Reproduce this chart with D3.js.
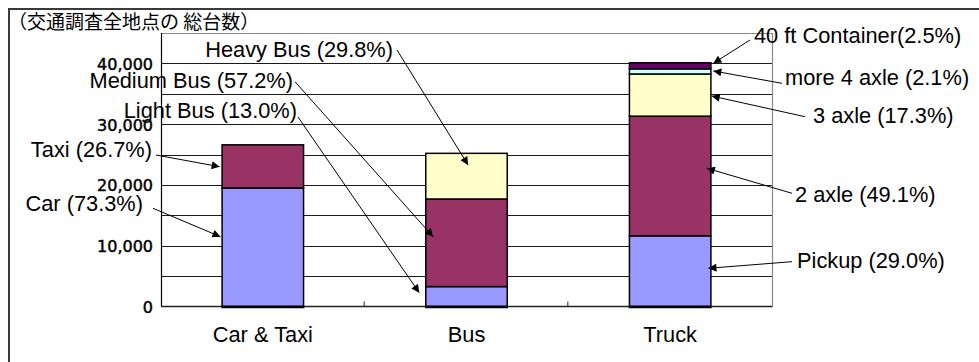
<!DOCTYPE html>
<html>
<head>
<meta charset="utf-8">
<script src="https://cdn.jsdelivr.net/npm/d3@7"></script>
<style>
  html, body { margin: 0; padding: 0; background: #fff; }
  svg { display: block; }
  .lbl { font-family: "Liberation Sans", Arial, sans-serif; font-size: 21.8px; fill: #000; }
  .tick-y { font-family: "DejaVu Sans", sans-serif; font-size: 16px; fill: #000; stroke: #000; stroke-width: 0.45px; }
  .title { font-family: "Noto Sans CJK JP", sans-serif; font-size: 19px; fill: #000; }
</style>
</head>
<body>
<svg id="chart" width="979" height="362"></svg>
<script>
// Vehicle counts across all survey points, stacked by vehicle type
const categories = ["Car & Taxi", "Bus", "Truck"];
const totals = [26600, 25200, 40100];
const segmentNames = [
  ["Car", "Taxi"],
  ["Light Bus", "Medium Bus", "Heavy Bus"],
  ["Pickup", "2 axle", "3 axle", "more 4 axle", "40 ft Container"]
];
const segmentShares = [
  [73.3, 26.7],
  [13.0, 57.2, 29.8],
  [29.0, 49.1, 17.3, 2.1, 2.5]
];
const yTicks = [0, 10000, 20000, 30000, 40000];
const gridStep = 5000;
const yMax = 45000;
const titleText = "（交通調査全地点の 総台数）";

// Segment fill by stack level within each category
const levelColors = [
  ["#9999FF", "#993366"],
  ["#9999FF", "#993366", "#FFFFCC"],
  ["#9999FF", "#993366", "#FFFFCC", "#CCFFFF", "#660066"]
];

// Callout placement: label anchor, tail of the arrow, and where the tip
// lands (in data units: fraction across the bar and a value on the y axis)
const callouts = {
  "Car":             { tx: 143, ty: 210.7, anchor: "end",   x0: 153, y0: 208.3, frac: -0.02, v: 11480 },
  "Taxi":            { tx: 152, ty: 156.7, anchor: "end",   x0: 156, y0: 155,   frac: -0.03, v: 23000 },
  "Light Bus":       { tx: 297, ty: 118,   anchor: "end",   x0: 298, y0: 117,   frac: -0.08, v: 2270 },
  "Medium Bus":      { tx: 293, ty: 88.3,  anchor: "end",   x0: 295, y0: 81.7,  frac: 0.09,  v: 11480 },
  "Heavy Bus":       { tx: 393, ty: 56.5,  anchor: "end",   x0: 397, y0: 50,    frac: 0.52,  v: 23280 },
  "Pickup":          { tx: 797, ty: 268.3, anchor: "start", x0: 792, y0: 261.7, frac: 0.97,  v: 6290 },
  "2 axle":          { tx: 795, ty: 201.7, anchor: "start", x0: 792, y0: 193.3, frac: 0.95,  v: 22740 },
  "3 axle":          { tx: 813, ty: 123.3, anchor: "start", x0: 805, y0: 116.7, frac: 1.01,  v: 34630 },
  "more 4 axle":     { tx: 785, ty: 85,    anchor: "start", x0: 782, y0: 83.3,  frac: 1.03,  v: 38750 },
  "40 ft Container": { tx: 754, ty: 43.3,  anchor: "start", x0: 750, y0: 40,    frac: 1.03,  v: 40010 }
};

const svg = d3.select("#chart");
const plot = { left: 161, right: 772, top: 33, bottom: 306.5 };

const x = d3.scaleBand()
  .domain(categories)
  .range([plot.left, plot.right])
  .paddingInner(0.6)
  .paddingOuter(0.3);

const y = d3.scaleLinear()
  .domain([0, yMax])
  .range([plot.bottom, plot.top]);

// Outer chart frame (top and left edges)
svg.append("path")
  .attr("d", "M9,364 V9 H981")
  .attr("fill", "none")
  .attr("stroke", "#3a3a3a")
  .attr("stroke-width", 2);

// Horizontal gridlines every 5,000
const gridVals = d3.range(gridStep, yMax, gridStep);
svg.append("g")
  .selectAll("line")
  .data(gridVals)
  .join("line")
  .attr("x1", plot.left).attr("x2", plot.right)
  .attr("y1", d => Math.round(y(d)) + 0.5).attr("y2", d => Math.round(y(d)) + 0.5)
  .attr("stroke", "#1a1a1a")
  .attr("stroke-width", 1);

// Plot area top and right border
svg.append("path")
  .attr("d", `M${plot.left},${plot.top + 0.5} H${plot.right + 0.5} V${plot.bottom}`)
  .attr("fill", "none")
  .attr("stroke", "#8a8a8a")
  .attr("stroke-width", 1.2);

// Y axis line and labels
svg.append("line")
  .attr("x1", plot.left + 0.5).attr("x2", plot.left + 0.5)
  .attr("y1", plot.top).attr("y2", plot.bottom)
  .attr("stroke", "#000").attr("stroke-width", 1.2);

svg.append("g")
  .selectAll("text")
  .data(yTicks)
  .join("text")
  .attr("class", "tick-y")
  .attr("x", 153)
  .attr("y", d => y(d))
  .attr("dy", "0.4em")
  .attr("text-anchor", "end")
  .text(d => d3.format(",")(d));

// Stacked bars
const stacks = categories.map((cat, i) => {
  let acc = 0;
  return segmentShares[i].map((share, j) => {
    const value = totals[i] * share / 100;
    const seg = { cat, name: segmentNames[i][j], share, y0: acc, y1: acc + value, color: levelColors[i][j] };
    acc += value;
    return seg;
  });
});

svg.append("g")
  .selectAll("rect")
  .data(stacks.flat())
  .join("rect")
  .attr("x", d => x(d.cat))
  .attr("width", x.bandwidth())
  .attr("y", d => y(d.y1))
  .attr("height", d => y(d.y0) - y(d.y1))
  .attr("fill", d => d.color)
  .attr("stroke", "#000")
  .attr("stroke-width", 1.5);

// X axis baseline with small category separators
svg.append("line")
  .attr("x1", plot.left).attr("x2", plot.right + 0.5)
  .attr("y1", plot.bottom).attr("y2", plot.bottom)
  .attr("stroke", "#222").attr("stroke-width", 1.5);

svg.append("g")
  .selectAll("line")
  .data(categories.slice(1))
  .join("line")
  .attr("x1", d => x(d) - x.step() * x.paddingInner() / 2 - 0.5)
  .attr("x2", d => x(d) - x.step() * x.paddingInner() / 2 - 0.5)
  .attr("y1", plot.bottom).attr("y2", plot.bottom - 5)
  .attr("stroke", "#222").attr("stroke-width", 1);

// Bar bottoms sit on a heavier line
svg.append("g")
  .selectAll("line")
  .data(categories)
  .join("line")
  .attr("x1", d => x(d) - 0.75).attr("x2", d => x(d) + x.bandwidth() + 0.75)
  .attr("y1", plot.bottom + 0.5).attr("y2", plot.bottom + 0.5)
  .attr("stroke", "#000").attr("stroke-width", 2.5);

// Category labels
svg.append("g")
  .selectAll("text")
  .data(categories)
  .join("text")
  .attr("class", "lbl")
  .attr("x", d => x(d) + x.bandwidth() / 2)
  .attr("y", 341.7)
  .attr("text-anchor", "middle")
  .text(d => d);

// Title
svg.append("text")
  .attr("class", "title")
  .attr("x", 8)
  .attr("y", 29)
  .text(titleText);

// Arrowhead
svg.append("defs").append("marker")
  .attr("id", "arrow")
  .attr("viewBox", "0 0 10 10")
  .attr("refX", 10).attr("refY", 5)
  .attr("markerWidth", 11).attr("markerHeight", 8)
  .attr("markerUnits", "userSpaceOnUse")
  .attr("orient", "auto")
  .append("path")
  .attr("d", "M0,0 L10,5 L0,10 Z")
  .attr("fill", "#000");

// Callout labels and arrows
const calloutData = stacks.flat().map(d => ({ ...d, ...callouts[d.name] }));

svg.append("g")
  .selectAll("line")
  .data(calloutData)
  .join("line")
  .attr("x1", d => d.x0).attr("y1", d => d.y0)
  .attr("x2", d => x(d.cat) + d.frac * x.bandwidth())
  .attr("y2", d => y(d.v))
  .attr("stroke", "#000")
  .attr("stroke-width", 1)
  .attr("marker-end", "url(#arrow)");

svg.append("g")
  .selectAll("text")
  .data(calloutData)
  .join("text")
  .attr("class", "lbl")
  .attr("x", d => d.tx)
  .attr("y", d => d.ty)
  .attr("text-anchor", d => d.anchor)
  .text(d => `${d.name}${d.name.endsWith("Container") ? "" : " "}(${d.share.toFixed(1)}%)`);
</script>
</body>
</html>
